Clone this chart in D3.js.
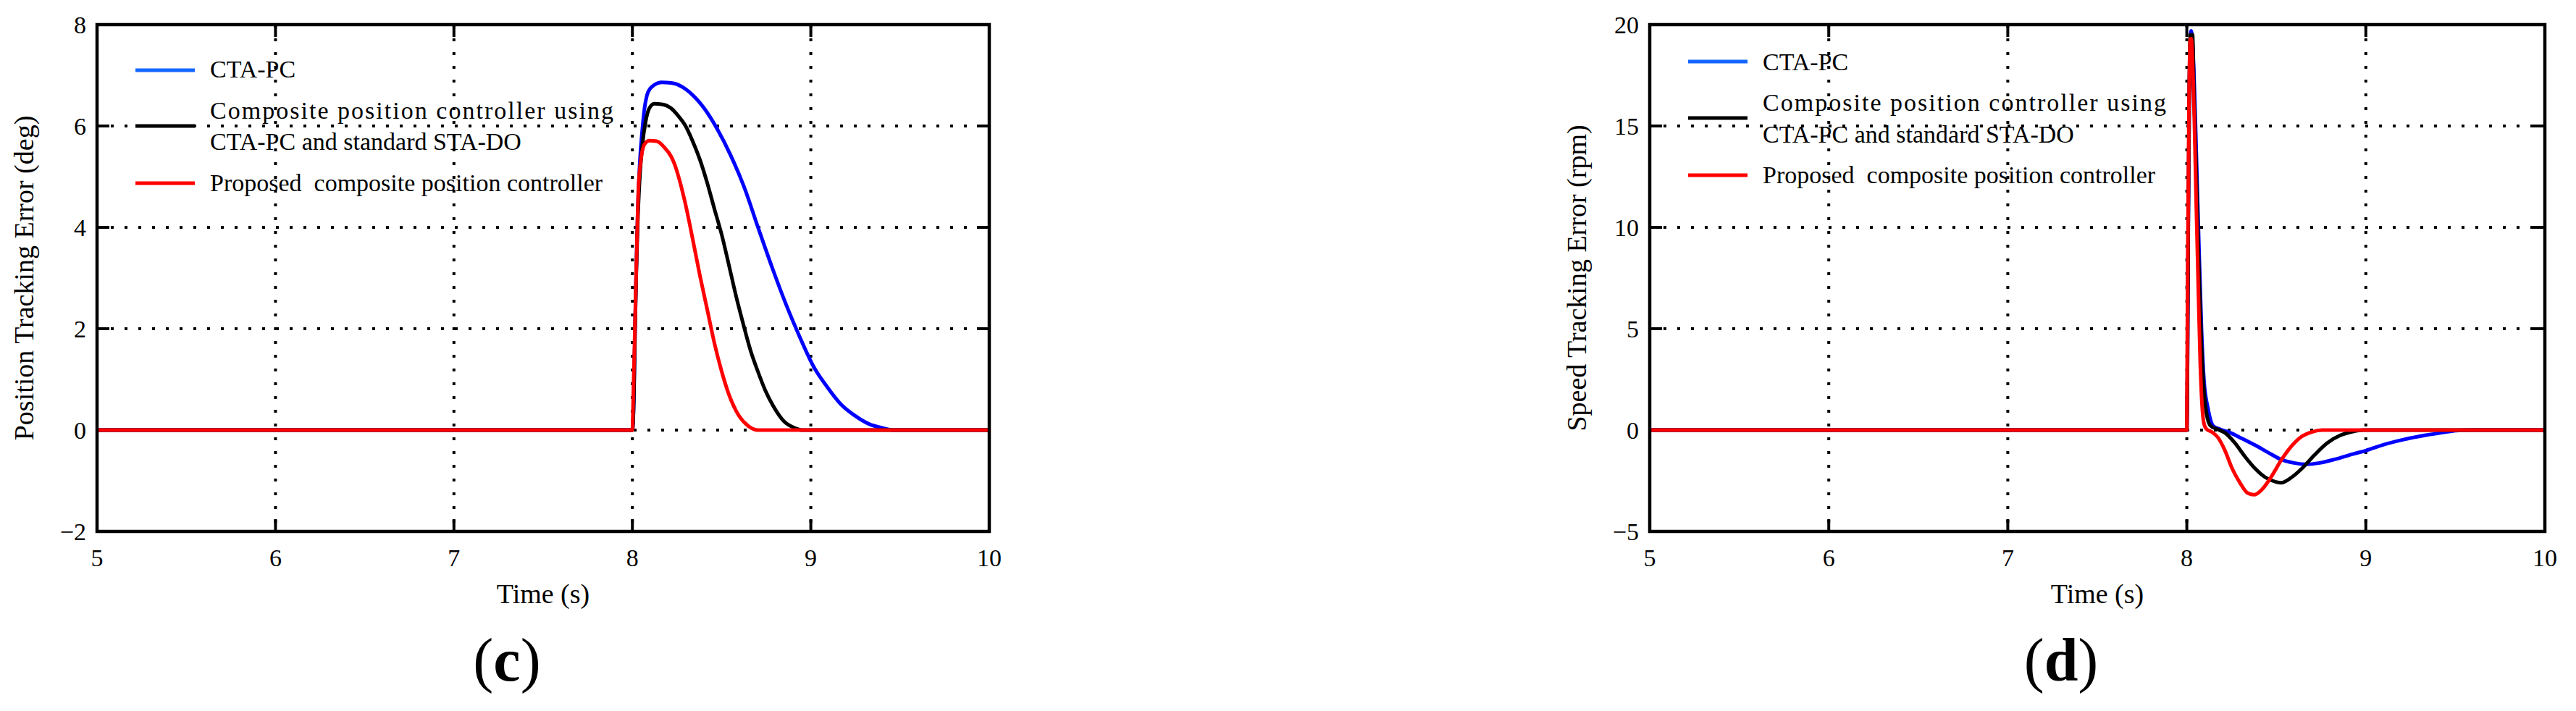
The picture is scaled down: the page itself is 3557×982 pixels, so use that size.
<!DOCTYPE html>
<html>
<head>
<meta charset="utf-8">
<script src="https://cdn.jsdelivr.net/npm/d3@7/dist/d3.min.js"></script>
<style>
body { margin: 0; background: #fff; }
svg text { font-family: "Liberation Serif", "Times New Roman", serif; fill: #000; white-space: pre; }
</style>
</head>
<body>
<svg width="3557" height="982"></svg>
<script>
// shared x axis + legend
var timeTicks = [5, 6, 7, 8, 9, 10];
var seriesNames = ["CTA-PC", "Composite position controller using\nCTA-PC and standard STA-DO", "Proposed  composite position controller"];
var seriesColors = ["#0000ff", "#000000", "#ff0000"];
var legendColors = ["#1466ff", "#000000", "#ff0000"];

// (c) position tracking error, deg
var posTicks = [-2, 0, 2, 4, 6, 8];
var posBlueT = [5, 8.0, 8.008, 8.015, 8.022, 8.03, 8.042, 8.055, 8.068, 8.082, 8.1, 8.123, 8.163, 8.217, 8.285, 8.352, 8.4, 8.474, 8.551, 8.629, 8.706, 8.784, 8.861, 8.939, 9.016, 9.094, 9.171, 9.249, 9.326, 9.404, 9.46, 10];
var posBlueV = [0, 0, 0.6, 2.0, 3.2, 4.3, 5.3, 5.9, 6.35, 6.61, 6.74, 6.81, 6.86, 6.85, 6.76, 6.56, 6.36, 5.95, 5.42, 4.77, 3.98, 3.2, 2.48, 1.83, 1.25, 0.84, 0.5, 0.28, 0.12, 0.04, 0, 0];
var posBlackT = [5, 8.0, 8.008, 8.015, 8.022, 8.03, 8.04, 8.055, 8.075, 8.095, 8.123, 8.163, 8.217, 8.257, 8.298, 8.339, 8.379, 8.42, 8.46, 8.501, 8.542, 8.582, 8.623, 8.663, 8.704, 8.744, 8.79, 8.85, 8.91, 8.95, 10];
var posBlackV = [0, 0, 0.6, 2.0, 3.1, 4.1, 4.9, 5.59, 6.1, 6.35, 6.44, 6.43, 6.35, 6.2, 6.0, 5.69, 5.33, 4.87, 4.36, 3.85, 3.24, 2.63, 2.07, 1.56, 1.15, 0.79, 0.47, 0.17, 0.04, 0, 0];
var posRedT = [5, 8.0, 8.004, 8.014, 8.021, 8.028, 8.034, 8.048, 8.068, 8.095, 8.136, 8.176, 8.217, 8.237, 8.257, 8.298, 8.339, 8.379, 8.42, 8.46, 8.501, 8.542, 8.596, 8.65, 8.704, 10];
var posRedV = [0, 0, 0.5, 2.0, 3.04, 4.06, 4.77, 5.33, 5.64, 5.71, 5.7, 5.59, 5.4, 5.24, 5.02, 4.45, 3.75, 3.04, 2.37, 1.71, 1.15, 0.69, 0.29, 0.08, 0, 0];

// (d) speed tracking error, rpm
var spdTicks = [-5, 0, 5, 10, 15, 20];
var spdBlueT = [5, 8.0, 8.003, 8.008, 8.015, 8.024, 8.039, 8.056, 8.067, 8.082, 8.096, 8.118, 8.146, 8.182, 8.24, 8.311, 8.383, 8.455, 8.527, 8.598, 8.67, 8.742, 8.828, 8.928, 9.0, 9.1, 9.215, 9.33, 9.43, 9.502, 9.574, 10];
var spdBlueV = [0, 0, 2, 10, 17.5, 19.7, 17.8, 12.7, 9.28, 5.0, 2.44, 1.08, 0.22, 0.05, -0.12, -0.43, -0.75, -1.11, -1.45, -1.62, -1.69, -1.62, -1.44, -1.18, -1.01, -0.72, -0.46, -0.26, -0.12, -0.03, 0, 0];
var spdBlackT = [5, 8.0, 8.003, 8.008, 8.014, 8.02, 8.032, 8.039, 8.053, 8.067, 8.082, 8.096, 8.11, 8.132, 8.168, 8.211, 8.268, 8.326, 8.383, 8.44, 8.498, 8.527, 8.584, 8.641, 8.713, 8.785, 8.857, 8.928, 8.986, 10];
var spdBlackV = [0, 0, 2, 10, 17, 19.5, 19.5, 16.96, 12.7, 8.08, 4.15, 1.93, 0.82, 0.22, 0.05, -0.12, -0.63, -1.32, -1.91, -2.34, -2.56, -2.6, -2.34, -1.91, -1.23, -0.63, -0.26, -0.07, 0, 0];
var spdRedT = [5, 8.0, 8.001, 8.006, 8.012, 8.02, 8.025, 8.032, 8.042, 8.053, 8.065, 8.075, 8.085, 8.096, 8.11, 8.139, 8.175, 8.211, 8.254, 8.297, 8.34, 8.376, 8.419, 8.469, 8.527, 8.584, 8.641, 8.699, 8.756, 10];
var spdRedV = [0, 0, 1.9, 9.3, 16.1, 19.3, 19.3, 18.2, 15.3, 11.0, 6.7, 3.3, 1.25, 0.31, 0.05, -0.09, -0.38, -0.97, -1.91, -2.6, -3.11, -3.19, -2.94, -2.34, -1.49, -0.8, -0.32, -0.09, 0, 0];

var svg = d3.select("svg"),
    plotTop = 34, plotBottom = 734;

svg.append("rect").attr("width", 3557).attr("height", 982).attr("fill", "#fff");

drawPanel({
  left: 134, right: 1366,
  yTicks: posTicks,
  yLabel: "Position Tracking Error (deg)",
  caption: "c",
  series: [[posBlueT, posBlueV], [posBlackT, posBlackV], [posRedT, posRedV]],
  legendLines: [97, 174, 253],
  legendText: [[107], [164, 207], [264]]
});

drawPanel({
  left: 2278, right: 3514,
  yTicks: spdTicks,
  yLabel: "Speed Tracking Error (rpm)",
  caption: "d",
  series: [[spdBlueT, spdBlueV], [spdBlackT, spdBlackV], [spdRedT, spdRedV]],
  legendLines: [85, 163, 242],
  legendText: [[97], [153, 197], [253]]
});

function drawPanel(p) {
  var x = d3.scaleLinear().domain([5, 10]).range([p.left, p.right]),
      y = d3.scaleLinear().domain(d3.extent(p.yTicks)).range([plotBottom, plotTop]);
  var g = svg.append("g");
  var tickLen = 17;

  // dotted grid (inner ticks only)
  g.selectAll(".vgrid")
    .data(timeTicks.slice(1, -1))
    .enter().append("line")
    .attr("x1", x).attr("x2", x)
    .attr("y1", plotTop).attr("y2", plotBottom)
    .attr("stroke", "#000").attr("stroke-width", 4)
    .attr("stroke-dasharray", "4 15");
  g.selectAll(".hgrid")
    .data(p.yTicks.slice(1, -1))
    .enter().append("line")
    .attr("y1", y).attr("y2", y)
    .attr("x1", p.left).attr("x2", p.right)
    .attr("stroke", "#000").attr("stroke-width", 4)
    .attr("stroke-dasharray", "4 15");

  // box ticks, inward on all four sides
  var ticks = g.append("g").attr("stroke", "#000").attr("stroke-width", 4);
  timeTicks.forEach(function (t) {
    ticks.append("line").attr("x1", x(t)).attr("x2", x(t)).attr("y1", plotBottom).attr("y2", plotBottom - tickLen);
    ticks.append("line").attr("x1", x(t)).attr("x2", x(t)).attr("y1", plotTop).attr("y2", plotTop + tickLen);
  });
  p.yTicks.forEach(function (v) {
    ticks.append("line").attr("y1", y(v)).attr("y2", y(v)).attr("x1", p.left).attr("x2", p.left + tickLen);
    ticks.append("line").attr("y1", y(v)).attr("y2", y(v)).attr("x1", p.right).attr("x2", p.right - tickLen);
  });

  // curves
  var line = d3.line()
    .curve(d3.curveMonotoneX)
    .x(function (d) { return x(d[0]); })
    .y(function (d) { return y(d[1]); });
  p.series.forEach(function (s, i) {
    g.append("path")
      .datum(d3.zip(s[0], s[1]))
      .attr("d", line)
      .attr("fill", "none")
      .attr("stroke", seriesColors[i])
      .attr("stroke-width", 5)
      .attr("stroke-linejoin", "round");
  });

  // frame
  g.append("rect")
    .attr("x", p.left).attr("y", plotTop)
    .attr("width", p.right - p.left).attr("height", plotBottom - plotTop)
    .attr("fill", "none").attr("stroke", "#000").attr("stroke-width", 4.5);

  // tick labels
  g.selectAll(".xlab")
    .data(timeTicks)
    .enter().append("text")
    .attr("x", x).attr("y", 782)
    .attr("text-anchor", "middle")
    .attr("font-size", 34)
    .text(function (d) { return d; });
  g.selectAll(".ylab")
    .data(p.yTicks)
    .enter().append("text")
    .attr("x", p.left - 15)
    .attr("y", function (d) { return y(d) + 12; })
    .attr("text-anchor", "end")
    .attr("font-size", 34)
    .text(function (d) { return d < 0 ? "\u2212" + Math.abs(d) : d; });

  // axis titles
  g.append("text")
    .attr("x", (p.left + p.right) / 2).attr("y", 833)
    .attr("text-anchor", "middle")
    .attr("font-size", 38)
    .text("Time (s)");
  g.append("text")
    .attr("transform", "translate(" + (p.left - 88) + "," + (plotTop + plotBottom) / 2 + ") rotate(-90)")
    .attr("text-anchor", "middle")
    .attr("font-size", 38)
    .text(p.yLabel);

  // legend, no box
  seriesNames.forEach(function (name, i) {
    g.append("line")
      .attr("x1", p.left + 53).attr("x2", p.left + 135)
      .attr("y1", p.legendLines[i]).attr("y2", p.legendLines[i])
      .attr("stroke", legendColors[i]).attr("stroke-width", 5);
    name.split("\n").forEach(function (row, j) {
      var t = g.append("text")
        .attr("x", p.left + 156).attr("y", p.legendText[i][j])
        .attr("font-size", 34)
        .text(row);
      if (row == "Composite position controller using") t.attr("textLength", 557).attr("lengthAdjust", "spacing");
    });
  });

  // sub-figure caption
  var cap = g.append("text")
    .attr("x", (p.left + p.right) / 2 - 50).attr("y", 940)
    .attr("text-anchor", "middle")
    .attr("font-size", 84);
  cap.append("tspan").text("(");
  cap.append("tspan").attr("font-weight", "bold").text(p.caption);
  cap.append("tspan").text(")");
}
</script>
</body>
</html>
